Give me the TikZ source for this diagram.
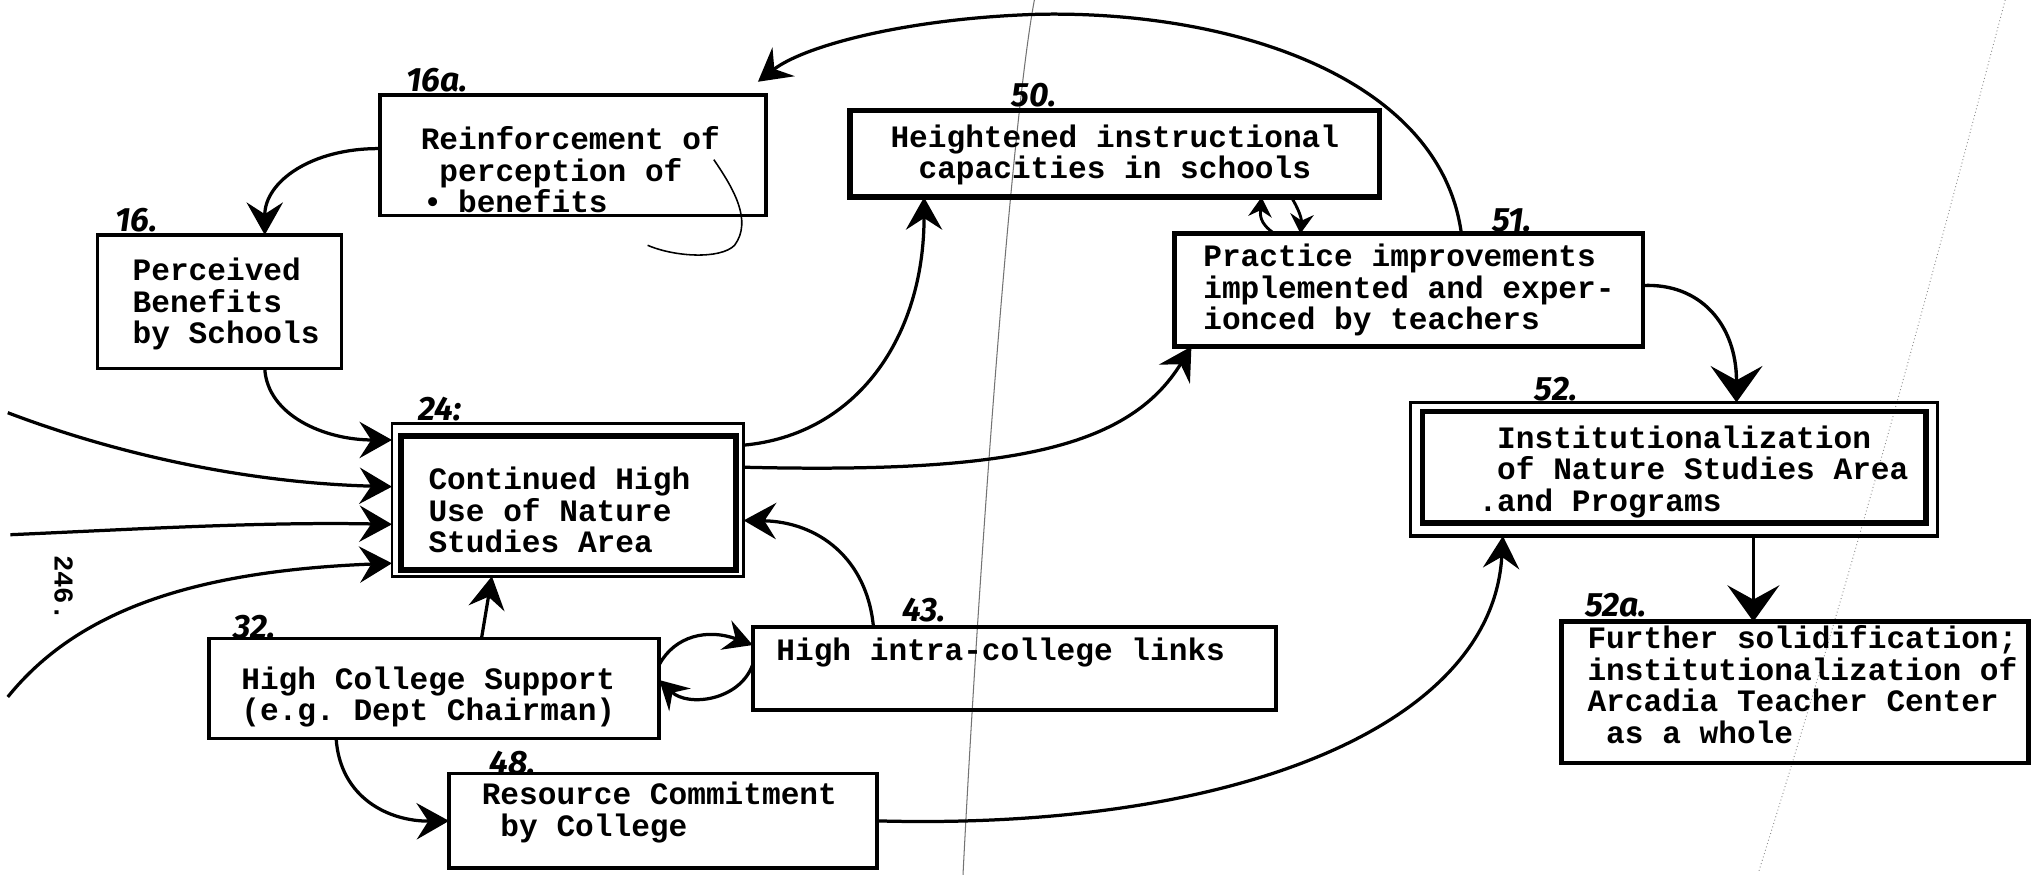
\documentclass[tikz,border=0pt]{standalone}
\usepackage{fontspec}
\setmonofont{Liberation Mono}
\newfontfamily\handfont{Fira Sans}
\usetikzlibrary{arrows.meta}

\begin{document}
\begin{tikzpicture}[x=1pt,y=-1pt,
  box/.style={draw, line width=2.8pt, inner sep=0pt, outer sep=0pt, anchor=north west},
  heavybox/.style={box, line width=4.3pt},
  thinbox/.style={box, line width=2.2pt},
  txt/.style={font=\ttfamily\bfseries\fontsize{24}{24.3}\selectfont, align=left, inner sep=0pt, anchor=west},
  num/.style={font=\handfont\bfseries\itshape\fontsize{26}{26}\selectfont, inner sep=0pt},
  link/.style={line width=2.5pt, -{Stealth[length=25pt,width=28pt,inset=9pt]}},
  biglink/.style={line width=2.6pt, -{Stealth[length=28pt,width=40pt,inset=11pt]}},
  smalllink/.style={line width=2.2pt, -{Stealth[length=15pt,width=18pt,inset=5pt]}},
  midlink/.style={line width=2.5pt, -{Stealth[length=22pt,width=24pt,inset=8pt]}},
  crease/.style={line width=0.8pt, black!55},
  edgeline/.style={line width=0.7pt, black!45, dotted},
]
\useasboundingbox (0,0) rectangle (1568,674);
\fill[white] (0,0) rectangle (1568,674);

% paper crease and page edge
\draw[crease] (797,0) .. controls (780,90) and (755,420) .. (742,674);
\draw[edgeline] (1545,0) .. controls (1500,170) and (1440,400) .. (1355,672);

% boxes
\node[box, minimum width=297pt, minimum height=93pt] (b16a) at (293,73) {};
\node[box, minimum width=188pt, minimum height=103pt] (b16) at (75,181) {};
\node[thinbox, minimum width=271pt, minimum height=118pt] (b24) at (302,326) {};
\node[heavybox, minimum width=258pt, minimum height=103pt] (b24in) at (309,336) {};
\node[heavybox, minimum width=408pt, minimum height=67pt] (b50) at (655,85) {};
\node[box, line width=3.4pt, minimum width=361pt, minimum height=87pt] (b51) at (905,180) {};
\node[thinbox, line width=2.4pt, minimum width=406pt, minimum height=103pt] (b52) at (1087,310) {};
\node[heavybox, minimum width=388pt, minimum height=86pt] (b52in) at (1096,317) {};
\node[box, line width=3.4pt, minimum width=360pt, minimum height=109pt] (b52a) at (1203,479) {};
\node[box, minimum width=347pt, minimum height=77pt] (b32) at (161,492) {};
\node[box, line width=3pt, minimum width=403pt, minimum height=64pt] (b43) at (580,483) {};
\node[box, line width=3pt, minimum width=330pt, minimum height=73pt] (b48) at (346,596) {};

% box texts
\node[txt] (t16a) at (324,131) {Reinforcement of\\\phantom{x}perception of\\\makebox[0pt][l]{\hspace{2pt}•}\phantom{xx}benefits};
\node[txt] (t16) at (102,234.5) {Perceived\\Benefits\\by Schools};
\node[txt] (t24) at (330,393) {Continued High\\Use of Nature\\Studies Area};
\node[txt, anchor=center, align=center] (t50) at (859,119.5) {Heightened instructional\\capacities in schools};
\node[txt] (t51) at (927,223.5) {Practice improvements\\implemented and exper-\\ionced by teachers};
\node[txt] (t52) at (1139,363.5) {\phantom{.}Institutionalization\\\phantom{.}of Nature Studies Area\\.and Programs};
\node[txt] (t52a) at (1223,527.5) {Further solidification;\\institutionalization of\\Arcadia Teacher Center\\\phantom{x}as a whole};
\node[txt, anchor=center, align=center] (t32) at (330,537) {High College Support\\(e.g. Dept Chairman)};
\node[txt] (t43) at (598,502.5) {High intra-college links};
\node[txt] (t48) at (371,626) {Resource Commitment\\\phantom{x}by College};

% handwritten numbers
\node[num] (n16a) at (337,62) {16a.};
\node[num] (n16) at (105,170) {16.};
\node[num] (n24) at (339,315) {24:};
\node[num] (n50) at (797,73) {50.};
\node[num] (n51) at (1165,170) {51.};
\node[num] (n52) at (1199,300) {52.};
\node[num] (n52a) at (1245,466) {52a.};
\node[num] (n32) at (196,483) {32.};
\node[num] (n43) at (712,470) {43.};
\node[num] (n48) at (395,588) {48.};
\node[font=\ttfamily\bfseries\fontsize{21}{21}\selectfont, rotate=-90, inner sep=0pt] (pg) at (49,453) {246.};

% loose ends of the incoming lines
\coordinate (inA) at (6,318);
\coordinate (inB) at (8,412);
\coordinate (inC) at (6,537);

% connectors
\draw[link] ([yshift=5pt]b16a.west) .. controls (240,114) and (204,140) .. ([xshift=35pt]b16.north);
\draw[link] ([xshift=35pt]b16.south) .. controls (206,320) and (250,339) .. ([yshift=46pt]b24.west);
\draw[link] (inA) .. controls (90,350) and (190,372) .. ([yshift=10pt]b24.west);
\draw[link] (inB) .. controls (100,408) and (200,402) .. ([yshift=-19pt]b24.west);
\draw[link] (inC) .. controls (60,470) and (150,440) .. ([yshift=-49pt]b24.west);
\draw[link] ([xshift=36.5pt]b32.north) -- ([xshift=-58.5pt]b24.south);
\draw[link] ([xshift=-108.5pt]b43.north) .. controls (668,430) and (630,402) .. ([yshift=-16pt]b24.east);
\draw[midlink] ([yshift=18.5pt]b32.east) .. controls (520,490) and (545,484) .. ([yshift=18pt]b43.west);
\draw[midlink] ([yshift=3pt]b43.west) .. controls (570,540) and (530,545) .. ([yshift=6.5pt]b32.east);
\draw[link] ([xshift=-75.5pt]b32.south) .. controls (262,615) and (300,633) .. (b48.west);
\draw[link] (b48.east) .. controls (950,640) and (1150,560) .. ([xshift=-132pt]b52.south);
\draw[link] ([yshift=42pt]b24.east) .. controls (660,335) and (712,260) .. ([xshift=-147pt]b50.south);
\draw[link] ([yshift=25pt]b24.east) .. controls (780,365) and (870,345) .. ([xshift=13pt]b51.south west);
\draw[smalllink] ([xshift=-103.5pt]b51.north) .. controls (970,172) and (971,165) .. ([xshift=113pt]b50.south);
\draw[smalllink] ([xshift=136pt]b50.south) .. controls (1000,160) and (1003,168) .. ([xshift=-83.5pt]b51.north);
\draw[link] ([xshift=40.5pt]b51.north) .. controls (1110,60) and (950,8) .. (800,11)
  .. controls (700,14) and (620,35) .. ([shift={(-6pt,10pt)}]b16a.north east);
\draw[biglink] ([yshift=3.5pt]b51.east) .. controls (1310,218) and (1338,250) .. ([xshift=48pt]b52.north);
\draw[biglink] ([xshift=61pt]b52.south) -- ([xshift=-32pt]b52a.north);

% pencil stroke across the 16a box
\draw[line width=1.2pt] (550,123) .. controls (565,145) and (580,170) .. (566,189)
  .. controls (555,200) and (520,198) .. (499,189);
\end{tikzpicture}
\end{document}
